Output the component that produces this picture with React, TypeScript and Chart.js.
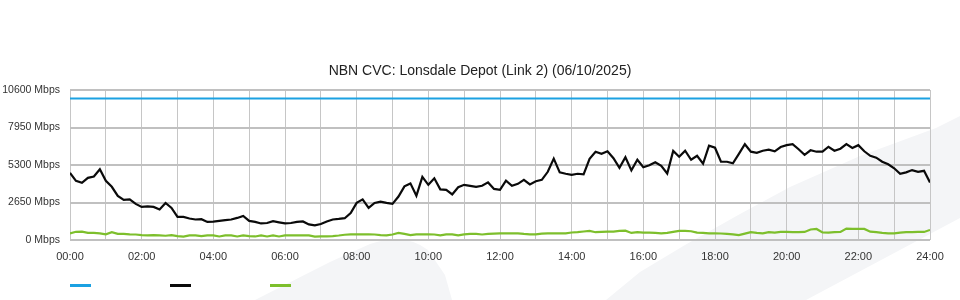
import React, { useEffect, useRef } from "react";
import { Chart, registerables } from "chart.js";

Chart.register(...registerables);

const TITLE = "NBN CVC: Lonsdale Depot (Link 2) (06/10/2025)";
const SAMPLE_MINUTES = 10;
const DAY_MINUTES = 1440;
const Y_MAX = 10600;
const Y_STEP = 2650;

const capacityMinutes = [0, 1440];
const capacityMbps = [10000, 10000];

const downloadMbps = [
  4750, 4180, 4040, 4390, 4490, 5000, 4180, 3760, 3120, 2830,
  2870, 2550, 2340, 2370, 2340, 2160, 2620, 2270, 1630, 1630,
  1520, 1450, 1470, 1280, 1300, 1350, 1400, 1450, 1560, 1700,
  1350, 1280, 1170, 1200, 1330, 1250, 1170, 1200, 1280, 1310,
  1100, 1030, 1130, 1310, 1450, 1490, 1540, 1910, 2620, 2870,
  2270, 2620, 2710, 2620, 2550, 3070, 3790, 4000, 3120, 4460,
  3900, 4360, 3580, 3540, 3220, 3730, 3900, 3830, 3760, 3830,
  4070, 3610, 3540, 4200, 3830, 3970, 4250, 3930, 4150, 4250,
  4820, 5750, 4780, 4680, 4610, 4680, 4640, 5740, 6240, 6090,
  6270, 5780, 5100, 5850, 4920, 5670, 5140, 5280, 5490, 5240,
  4700, 6300, 5880, 6310, 5670, 5950, 5390, 6660, 6520, 5530,
  5530, 5420, 6090, 6770, 6240, 6160, 6310, 6380, 6270, 6570,
  6700, 6780, 6410, 6020, 6340, 6240, 6240, 6590, 6310, 6450,
  6770, 6500, 6700, 6270, 5950, 5820, 5530, 5350, 5070, 4680,
  4780, 4940, 4820, 4890, 4060,
];

const uploadMbps = [
  470, 580, 590, 500, 500, 470, 400, 550, 430, 430,
  400, 390, 350, 330, 350, 330, 300, 350, 280, 240,
  330, 320, 280, 320, 330, 250, 320, 330, 250, 320,
  280, 250, 320, 250, 330, 250, 320, 330, 330, 320,
  320, 240, 250, 250, 280, 320, 370, 400, 400, 400,
  400, 390, 350, 330, 390, 500, 430, 350, 400, 400,
  400, 390, 330, 400, 400, 330, 400, 430, 430, 390,
  430, 450, 470, 470, 470, 470, 430, 400, 400, 450,
  470, 470, 470, 470, 530, 550, 600, 640, 550, 570,
  590, 590, 640, 660, 500, 550, 520, 520, 500, 470,
  500, 570, 640, 640, 620, 520, 500, 470, 470, 460,
  430, 400, 350, 450, 550, 500, 470, 550, 520, 570,
  570, 550, 550, 570, 740, 780, 530, 520, 550, 570,
  810, 780, 780, 780, 590, 550, 500, 470, 470, 520,
  550, 550, 570, 570, 710,
];

const COLORS = {
  capacity: "#1ba1e2",
  download: "#0a0a0a",
  upload: "#7dbf2c",
};

const FONT = "'Liberation Sans', Arial, sans-serif";

const pad2 = (n: number) => (n < 10 ? "0" + n : "" + n);

const watermarkPlugin = {
  id: "watermark",
  beforeDraw(chart: any) {
    const ctx = chart.ctx;
    ctx.save();
    ctx.fillStyle = "#f4f5f7";
    ctx.beginPath();
    ctx.moveTo(606, 300);
    ctx.lineTo(640, 272);
    ctx.lineTo(685, 245);
    ctx.lineTo(740, 214);
    ctx.lineTo(790, 187);
    ctx.lineTo(860, 156);
    ctx.lineTo(936, 128);
    ctx.lineTo(960, 116);
    ctx.lineTo(960, 218);
    ctx.lineTo(806, 300);
    ctx.closePath();
    ctx.fill();
    ctx.beginPath();
    ctx.moveTo(255, 300);
    ctx.lineTo(330, 262);
    ctx.lineTo(370, 244);
    ctx.quadraticCurveTo(405, 232, 428, 250);
    ctx.lineTo(445, 275);
    ctx.lineTo(452, 300);
    ctx.closePath();
    ctx.fill();
    ctx.restore();
  },
};

const titleAndLegendPlugin = {
  id: "titleLegend",
  afterDraw(chart: any) {
    const ctx = chart.ctx;
    ctx.save();
    ctx.fillStyle = "#222";
    ctx.font = "14px " + FONT;
    ctx.textAlign = "center";
    ctx.textBaseline = "middle";
    ctx.fillText(TITLE, 480, 71);
    const items = [COLORS.capacity, COLORS.download, COLORS.upload];
    ctx.lineWidth = 3;
    items.forEach((c, i) => {
      const x0 = 70 + i * 100;
      ctx.strokeStyle = c;
      ctx.beginPath();
      ctx.moveTo(x0, 285.5);
      ctx.lineTo(x0 + 21, 285.5);
      ctx.stroke();
    });
    ctx.restore();
  },
};

export default function App() {
  const ref = useRef<HTMLCanvasElement | null>(null);

  useEffect(() => {
    if (!ref.current) return;
    const toPoints = (vals: number[]) =>
      vals.map((v, i) => ({ x: i * SAMPLE_MINUTES, y: v }));

    const chart = new Chart(ref.current, {
      type: "line",
      data: {
        datasets: [
          {
            label: "",
            data: capacityMinutes.map((m, i) => ({ x: m, y: capacityMbps[i] })),
            borderColor: COLORS.capacity,
            borderWidth: 2,
            pointRadius: 0,
            tension: 0,
          },
          {
            label: "",
            data: toPoints(downloadMbps),
            borderColor: COLORS.download,
            borderWidth: 2.2,
            pointRadius: 0,
            tension: 0,
          },
          {
            label: "",
            data: toPoints(uploadMbps),
            borderColor: COLORS.upload,
            borderWidth: 2.2,
            pointRadius: 0,
            tension: 0,
          },
        ],
      },
      options: {
        animation: false,
        responsive: false,
        devicePixelRatio: 1,
        layout: { padding: { top: 90, right: 30, bottom: 30, left: 0 } },
        plugins: {
          legend: { display: false },
          tooltip: { enabled: false },
          title: { display: false },
        },
        scales: {
          x: {
            type: "linear",
            min: 0,
            max: DAY_MINUTES,
            border: { display: false },
            grid: { color: "#c6c6c6", lineWidth: 1, drawTicks: false },
            ticks: {
              stepSize: 60,
              autoSkip: false,
              maxRotation: 0,
              padding: 10,
              color: "#333",
              font: { family: FONT, size: 11 },
              callback: (v: any) =>
                Number(v) % 120 === 0 ? pad2(Math.round(Number(v) / 60)) + ":00" : "",
            },
            afterFit: (s: any) => {
              s.height = 30;
            },
          },
          y: {
            type: "linear",
            min: 0,
            max: Y_MAX,
            border: { display: false },
            grid: { color: "#c0c0c0", lineWidth: 2, drawTicks: false },
            ticks: {
              stepSize: Y_STEP,
              padding: 10,
              color: "#333",
              font: { family: FONT, size: 10.5 },
              callback: (v: any) => v + " Mbps",
            },
            afterFit: (s: any) => {
              s.width = 70;
            },
          },
        },
      },
      plugins: [watermarkPlugin, titleAndLegendPlugin],
    });
    return () => chart.destroy();
  }, []);

  return (
    <div style={{ position: "absolute", left: 0, top: 0, width: 960, height: 300, background: "#fff" }}>
      <canvas ref={ref} width={960} height={300} />
    </div>
  );
}
